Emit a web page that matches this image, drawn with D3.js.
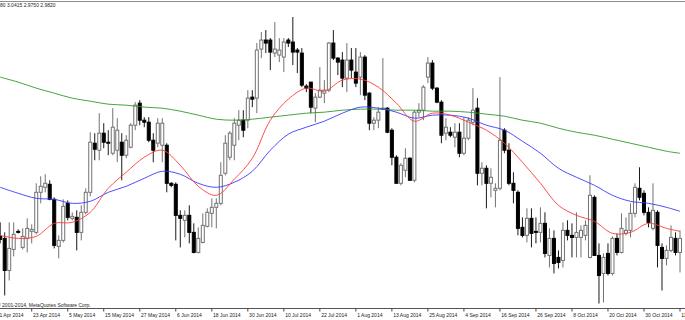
<!DOCTYPE html>
<html>
<head>
<meta charset="utf-8">
<script src="https://cdn.jsdelivr.net/npm/d3@7"></script>
<style>
html, body { margin: 0; padding: 0; background: #fff; }
svg { display: block; }
text { font-family: "Liberation Sans", Arial, sans-serif; fill: #222; }
</style>
</head>
<body>
<svg id="chart" width="685" height="320"></svg>
<script>
// calendar of the time axis (every weekday is a bar)
var firstDay = "2014-04-11", lastDay = "2014-11-11";
var firstBar = "2014-04-14";
var tickDays = ["2014-04-11", "2014-04-23", "2014-05-05", "2014-05-15", "2014-05-27", "2014-06-06",
    "2014-06-18", "2014-06-30", "2014-07-10", "2014-07-22", "2014-08-01", "2014-08-13", "2014-08-25",
    "2014-09-04", "2014-09-16", "2014-09-26", "2014-10-08", "2014-10-20", "2014-10-30", "2014-11-11"];

var open = [3.028,3.024,2.960,3.002,3.038,3.006,3.024,3.038,3.036,3.116,
    3.126,3.132,3.102,3.008,3.020,3.094,3.064,3.066,3.036,3.076,
    3.116,3.214,3.200,3.234,3.216,3.194,3.200,3.216,3.190,3.206,
    3.250,3.294,3.260,3.256,3.220,3.214,3.210,3.210,3.134,3.132,
    3.070,3.060,3.070,3.036,2.996,3.016,3.048,3.074,3.086,3.094,
    3.154,3.186,3.210,3.250,3.260,3.260,3.306,3.304,3.402,3.420,
    3.420,3.394,3.390,3.386,3.420,3.416,3.400,3.394,3.328,3.336,
    3.284,3.306,3.314,3.320,3.414,3.384,3.380,3.344,3.380,3.356,
    3.346,3.386,3.314,3.254,3.260,3.282,3.284,3.240,3.186,3.134,
    3.160,3.184,3.140,3.276,3.280,3.346,3.374,3.324,3.296,3.234,
    3.236,3.226,3.236,3.194,3.224,3.256,3.284,3.154,3.164,3.134,
    3.120,3.124,3.240,3.200,3.134,3.116,3.046,3.030,3.064,3.038,
    3.036,3.054,2.990,3.024,2.986,2.980,3.040,3.030,3.026,3.026,
    3.030,2.986,3.106,2.990,2.954,2.994,2.954,3.024,2.996,3.034,
    3.040,3.074,3.124,3.114,3.076,3.044,3.076,3.006,2.984,3.000,
    3.024,2.996];
var high = [3.056,3.036,3.056,3.056,3.042,3.044,3.064,3.052,3.134,3.148,
    3.152,3.140,3.106,3.030,3.102,3.100,3.076,3.080,3.090,3.124,
    3.236,3.234,3.274,3.254,3.240,3.284,3.264,3.234,3.230,3.254,
    3.296,3.300,3.266,3.266,3.234,3.264,3.264,3.214,3.136,3.136,
    3.080,3.080,3.090,3.054,3.046,3.074,3.084,3.104,3.104,3.176,
    3.230,3.238,3.264,3.280,3.280,3.320,3.320,3.414,3.436,3.440,
    3.424,3.456,3.424,3.424,3.424,3.466,3.404,3.404,3.332,3.336,
    3.314,3.366,3.340,3.416,3.440,3.386,3.396,3.414,3.404,3.404,
    3.396,3.390,3.316,3.266,3.286,3.384,3.286,3.244,3.190,3.174,
    3.204,3.186,3.280,3.294,3.330,3.386,3.380,3.326,3.300,3.264,
    3.246,3.254,3.254,3.266,3.266,3.324,3.304,3.176,3.170,3.164,
    3.134,3.346,3.244,3.214,3.156,3.120,3.066,3.084,3.084,3.066,
    3.086,3.076,3.044,3.040,3.000,3.056,3.060,3.054,3.076,3.050,
    3.060,3.150,3.110,3.014,2.994,3.014,3.028,3.034,3.074,3.066,
    3.094,3.134,3.166,3.120,3.086,3.134,3.080,3.014,3.010,3.050,
    3.036,3.040];
var low = [3.014,2.910,2.940,2.988,3.034,3.002,2.996,3.014,3.032,3.094,
    3.116,3.100,3.004,2.984,3.016,3.060,3.060,3.000,3.020,3.072,
    3.108,3.180,3.180,3.204,3.190,3.190,3.176,3.140,3.184,3.204,
    3.240,3.250,3.246,3.216,3.176,3.206,3.176,3.116,3.126,3.020,
    3.006,3.026,3.014,2.994,2.994,3.014,3.046,3.046,3.044,3.090,
    3.150,3.180,3.180,3.220,3.226,3.244,3.286,3.274,3.384,3.394,
    3.360,3.386,3.376,3.356,3.406,3.370,3.354,3.326,3.316,3.274,
    3.256,3.304,3.294,3.316,3.380,3.350,3.326,3.316,3.344,3.326,
    3.310,3.300,3.240,3.240,3.244,3.280,3.234,3.170,3.134,3.130,
    3.146,3.140,3.136,3.266,3.260,3.334,3.320,3.294,3.214,3.220,
    3.226,3.206,3.186,3.190,3.220,3.250,3.130,3.130,3.084,3.106,
    3.086,3.120,3.194,3.130,3.094,3.030,3.026,3.016,3.006,3.014,
    3.016,2.986,2.966,2.954,2.964,2.966,3.020,2.986,2.986,2.986,
    3.020,2.984,2.990,2.894,2.896,2.950,2.950,2.990,2.994,3.030,
    3.026,3.066,3.100,3.070,3.046,3.040,2.966,2.920,2.970,2.996,
    2.990,2.956];
var close = [3.022,2.960,3.004,3.032,3.036,3.028,3.044,3.042,3.116,3.128,
    3.134,3.102,3.010,3.020,3.088,3.066,3.068,3.036,3.076,3.116,
    3.216,3.202,3.234,3.216,3.214,3.246,3.240,3.190,3.220,3.250,
    3.290,3.260,3.256,3.220,3.200,3.254,3.254,3.134,3.130,3.070,
    3.064,3.070,3.036,2.996,3.024,3.050,3.076,3.086,3.094,3.150,
    3.214,3.234,3.254,3.260,3.240,3.304,3.302,3.400,3.420,3.414,
    3.396,3.402,3.400,3.416,3.414,3.396,3.396,3.330,3.324,3.286,
    3.306,3.320,3.320,3.414,3.384,3.376,3.344,3.380,3.360,3.334,
    3.386,3.310,3.254,3.260,3.276,3.284,3.236,3.186,3.134,3.170,
    3.184,3.140,3.276,3.280,3.326,3.374,3.324,3.296,3.230,3.246,
    3.230,3.236,3.194,3.224,3.260,3.280,3.154,3.164,3.134,3.146,
    3.124,3.220,3.200,3.134,3.120,3.044,3.030,3.064,3.034,3.036,
    3.054,2.994,3.024,2.974,2.976,3.040,3.030,3.026,3.036,3.040,
    3.050,3.110,2.990,2.950,2.986,2.954,3.024,2.996,3.044,3.040,
    3.074,3.126,3.106,3.076,3.056,3.080,3.010,2.984,3.000,3.026,
    2.996,3.024];

// moving averages at these bar numbers
var maBars = [0,4,8,12,16,20,24,28,32,36,40,44,48,52,56,60,64,68,72,76,
    80,84,88,92,96,100,104,108,112,116,120,124,128,132,136,140,144,148,151];
var maFast = [3.030,3.024,3.028,3.054,3.056,3.076,3.124,3.156,3.186,3.200,
    3.170,3.128,3.110,3.142,3.184,3.260,3.302,3.324,3.318,3.340,
    3.342,3.326,3.294,3.258,3.274,3.270,3.256,3.240,3.214,3.176,
    3.134,3.090,3.070,3.058,3.034,3.036,3.054,3.044,3.038];
var maMid = [3.126,3.114,3.104,3.102,3.094,3.098,3.116,3.128,3.144,3.158,
    3.152,3.134,3.126,3.136,3.158,3.200,3.232,3.246,3.258,3.274,
    3.286,3.284,3.276,3.264,3.270,3.270,3.264,3.250,3.240,3.218,
    3.194,3.164,3.146,3.130,3.110,3.098,3.094,3.086,3.078];
var maSlow = [3.346,3.336,3.324,3.314,3.304,3.298,3.292,3.290,3.286,3.284,
    3.278,3.270,3.262,3.260,3.262,3.266,3.270,3.274,3.276,3.280,
    3.282,3.282,3.280,3.280,3.278,3.278,3.276,3.272,3.268,3.260,
    3.254,3.244,3.236,3.230,3.222,3.214,3.206,3.198,3.194];

var headerText = "80 3.0415 2.9750 2.9820";
var copyright = "\u00a9 2001-2014, MetaQuotes Software Corp.";

var W = 685, H = 320, axisY = 308.5, step = 4.502;
var upCol = "#727272", downCol = "#000";
var parse = d3.utcParse("%Y-%m-%d"), iso = d3.utcFormat("%Y-%m-%d"), lab = d3.utcFormat("%-d %b %Y");

var days = d3.utcDay.range(parse(firstDay), d3.utcDay.offset(parse(lastDay), 1))
    .filter(function (d) { return d.getUTCDay() % 6 !== 0; }).map(iso);
var first = days.indexOf(firstBar);

var x = d3.scaleBand().domain(days).range([-6.55, -6.55 + days.length * step]).paddingInner(0);
var y = d3.scaleLinear().domain([2.884, 3.494]).range([axisY, 3]);
var xc = function (i) { return x(days[i + first]) + x.bandwidth() / 2; };

var bars = open.map(function (o, i) {
    return {i: i, o: o, h: high[i], l: low[i], c: close[i], up: close[i] >= o};
});

var svg = d3.select("#chart");
svg.append("defs").append("clipPath").attr("id", "plot")
    .append("rect").attr("x", 0).attr("y", 2).attr("width", W).attr("height", axisY - 2);

var plot = svg.append("g").attr("clip-path", "url(#plot)");

// candles: wick first, body over it
var cg = plot.selectAll(".bar").data(bars).enter().append("g").attr("class", "bar");
cg.append("line")
    .attr("x1", function (d) { return xc(d.i); }).attr("x2", function (d) { return xc(d.i); })
    .attr("y1", function (d) { return y(d.h); }).attr("y2", function (d) { return y(d.l); })
    .attr("stroke", function (d) { return d.up ? upCol : "#1a1a1a"; }).attr("stroke-width", 1);
cg.append("rect")
    .attr("x", function (d) { return xc(d.i) - 1.5; }).attr("width", 3)
    .attr("y", function (d) { return y(Math.max(d.o, d.c)); })
    .attr("height", function (d) { return Math.max(0.8, Math.abs(y(d.o) - y(d.c))); })
    .attr("fill", function (d) { return d.up ? "#fff" : downCol; })
    .attr("stroke", function (d) { return d.up ? upCol : downCol; }).attr("stroke-width", 1);

// moving averages
var ma = [{v: maSlow, col: "#2f9a2f"}, {v: maMid, col: "#3a3aff"}, {v: maFast, col: "#ff3b3b"}];
var line = d3.line().curve(d3.curveCatmullRom)
    .x(function (d) { return xc(d[0]); }).y(function (d) { return y(d[1]); });
plot.selectAll(".ma").data(ma).enter().append("path").attr("class", "ma")
    .attr("d", function (m) { return line(maBars.map(function (b, k) { return [b, m.v[k]]; })); })
    .attr("fill", "none").attr("stroke", function (m) { return m.col; }).attr("stroke-width", 0.9);

// frame lines
svg.append("line").attr("x1", 0).attr("x2", W).attr("y1", 1.5).attr("y2", 1.5)
    .attr("stroke", "#8c8c8c").attr("stroke-width", 1);
svg.append("line").attr("x1", 0).attr("x2", W).attr("y1", axisY).attr("y2", axisY)
    .attr("stroke", "#555").attr("stroke-width", 1);

var ax = svg.append("g").attr("transform", "translate(0," + axisY + ")")
    .call(d3.axisBottom(x).tickValues(tickDays).tickSize(3).tickSizeOuter(0)
        .tickFormat(function (d) { return lab(parse(d)); }));
ax.select(".domain").remove();
ax.selectAll(".tick line").attr("stroke", "#444");
ax.selectAll(".tick text").attr("text-anchor", "start").attr("x", 1.3).attr("y", 8).attr("dy", null)
    .style("font-size", "5px").style("font-family", "'Liberation Sans', Arial, sans-serif").attr("fill", "#222");

svg.append("text").attr("x", 0).attr("y", 7).style("font-size", "5px").text(headerText);
svg.append("text").attr("x", -3).attr("y", 306.5).style("font-size", "5px").text(copyright);
</script>
</body>
</html>
